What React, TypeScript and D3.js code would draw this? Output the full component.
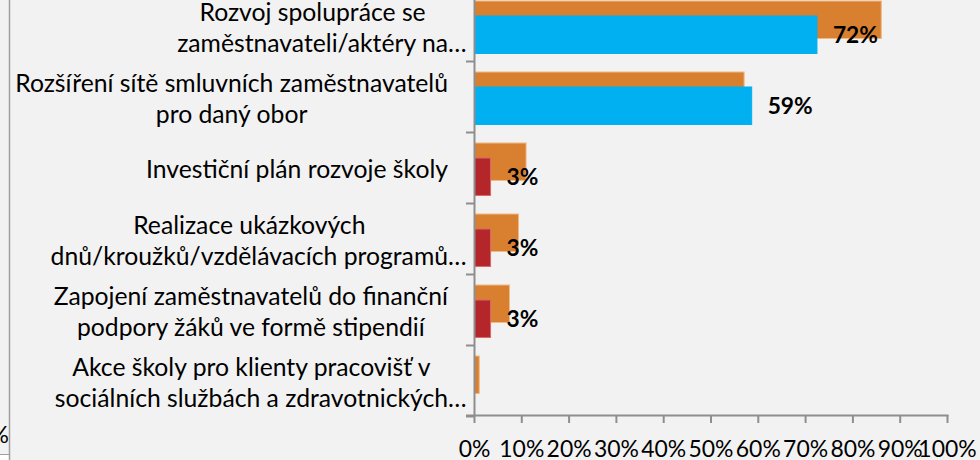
import React, { useEffect, useRef } from "react";
import * as d3 from "d3";

const W = 980;
const H = 460;
const FONT = "Lato, 'Open Sans', sans-serif";

// Category labels (lines as shown; "…" marks Excel's truncation)
const categories: string[][] = [
  ["Rozvoj spolupráce se", "zaměstnavateli/aktéry na…"],
  ["Rozšíření sítě smluvních zaměstnavatelů", "pro daný obor"],
  ["Investiční plán rozvoje školy"],
  ["Realizace ukázkových", "dnů/kroužků/vzdělávacích programů…"],
  ["Zapojení zaměstnavatelů do finanční", "podpory žáků ve formě stipendií"],
  ["Akce školy pro klienty pracovišť v", "sociálních službách a zdravotnických…"],
];
const categoryKeys = categories.map((c) => c.join(" "));

// Series values (percent)
const seriesOrange: number[] = [86, 57, 10.9, 9.3, 7.4, 1.0];
const seriesMain: (number | null)[] = [72.4, 58.6, 3.4, 3.4, 3.4, null];
const mainColors = ["#00B0F0", "#00B0F0", "#B5262A", "#B5262A", "#B5262A", "#B5262A"];
const mainStroke = ["#00B0F0", "#00B0F0", "#D86A6A", "#D86A6A", "#D86A6A", "#D86A6A"];

const xTicks = [0, 10, 20, 30, 40, 50, 60, 70, 80, 90, 100];

export default function App() {
  const ref = useRef<SVGSVGElement | null>(null);

  useEffect(() => {
    const svg = d3.select(ref.current!);
    svg.selectAll("*").remove();

    const fit = (text: string, weight: string, target: number) => {
      const t = svg
        .append("text")
        .attr("font-family", FONT)
        .attr("font-size", 26)
        .attr("font-weight", weight)
        .text(text);
      const w = (t.node() as SVGTextElement).getComputedTextLength();
      t.remove();
      return (26 * target) / w;
    };
    const catSize = fit("Rozšíření sítě smluvních zaměstnavatelů", "normal", 433);
    const tickSize = fit("10%", "normal", 45);
    const valSize = fit("72%", "bold", 45);

    svg.append("rect").attr("width", W).attr("height", H).attr("fill", "#F2F2F2");

    const x = d3.scaleLinear().domain([0, 100]).range([474.5, 947.5]);
    const y = d3.scaleBand<string>().domain(categoryKeys).range([-9, 417]);
    const bw = y.bandwidth();
    const barH = bw * 0.528;
    const offA = bw * 0.141;
    const offB = bw * 0.352;

    const axisColor = "#8E8E8E";

    // Orange series
    svg
      .append("g")
      .selectAll("rect")
      .data(seriesOrange)
      .join("rect")
      .attr("x", x(0))
      .attr("y", (_, i) => y(categoryKeys[i])! + offA)
      .attr("width", (d) => x(d) - x(0))
      .attr("height", barH)
      .attr("fill", "#D98030")
      .attr("stroke", "#F0B985")
      .attr("stroke-width", 1);

    // Main series
    const mainData = seriesMain
      .map((v, i) => ({ v, i }))
      .filter((d) => d.v !== null) as { v: number; i: number }[];
    svg
      .append("g")
      .selectAll("rect")
      .data(mainData)
      .join("rect")
      .attr("x", x(0))
      .attr("y", (d) => y(categoryKeys[d.i])! + offB)
      .attr("width", (d) => x(d.v) - x(0))
      .attr("height", barH)
      .attr("fill", (d) => mainColors[d.i])
      .attr("stroke", (d) => mainStroke[d.i])
      .attr("stroke-width", 1);

    // Data labels
    const fmt = d3.format(".0f");
    svg
      .append("g")
      .selectAll("text")
      .data(mainData)
      .join("text")
      .attr("x", (d) => x(d.v) + 16)
      .attr("y", (d) => y(categoryKeys[d.i])! + offB + barH / 2)
      .attr("dominant-baseline", "central")
      .attr("font-family", FONT)
      .attr("font-weight", "bold")
      .attr("font-size", valSize)
      .attr("fill", "#000")
      .text((d) => fmt(d.v) + "%");

    // Y axis
    const gy = svg.append("g");
    gy.append("line")
      .attr("x1", 474.5)
      .attr("x2", 474.5)
      .attr("y1", -9)
      .attr("y2", 416)
      .attr("stroke", axisColor)
      .attr("stroke-width", 2);
    const boundaries = categoryKeys.map((k) => y(k)!).concat([417]);
    gy.selectAll("line.t")
      .data(boundaries)
      .join("line")
      .attr("class", "t")
      .attr("x1", 466)
      .attr("x2", 474.5)
      .attr("y1", (d) => Math.round(d) - 0.5)
      .attr("y2", (d) => Math.round(d) - 0.5)
      .attr("stroke", axisColor)
      .attr("stroke-width", 2);

    // X axis
    const gx = svg.append("g");
    gx.append("line")
      .attr("x1", 466)
      .attr("x2", x(100) + 1)
      .attr("y1", 415.5)
      .attr("y2", 415.5)
      .attr("stroke", axisColor)
      .attr("stroke-width", 2);
    gx.selectAll("line.t")
      .data(xTicks)
      .join("line")
      .attr("class", "t")
      .attr("x1", (d) => x(d))
      .attr("x2", (d) => x(d))
      .attr("y1", 415)
      .attr("y2", 423)
      .attr("stroke", axisColor)
      .attr("stroke-width", 2);
    gx.selectAll("text")
      .data(xTicks)
      .join("text")
      .attr("x", (d) => x(d))
      .attr("y", 456.5)
      .attr("text-anchor", "middle")
      .attr("font-family", FONT)
      .attr("font-size", tickSize)
      .attr("fill", "#000")
      .text((d) => d + "%");

    // Category labels
    const gl = svg.append("g");
    const lineH = 31;
    const rightEdge = 448;
    categories.forEach((lines, i) => {
      const cy = y(categoryKeys[i])! + bw / 2;
      const widths = lines.map((l) => {
        const main = l.replace(/…$/, "");
        const t = gl
          .append("text")
          .attr("font-family", FONT)
          .attr("font-size", catSize)
          .text(main);
        const w = (t.node() as SVGTextElement).getComputedTextLength();
        t.remove();
        return w;
      });
      const maxW = Math.max(...widths);
      const cx = rightEdge - maxW / 2;
      lines.forEach((l, j) => {
        const ly = cy + (j - (lines.length - 1) / 2) * lineH;
        gl.append("text")
          .attr("x", cx - widths[j] / 2)
          .attr("y", ly)
          .attr("dominant-baseline", "central")
          .attr("font-family", FONT)
          .attr("font-size", catSize)
          .attr("fill", "#000")
          .text(l);
      });
    });

    // Left frame remnants
    const clipId = "leftclip";
    svg
      .append("clipPath")
      .attr("id", clipId)
      .append("rect")
      .attr("x", 0)
      .attr("y", 0)
      .attr("width", 9)
      .attr("height", H);
    svg
      .append("text")
      .attr("clip-path", `url(#${clipId})`)
      .attr("x", 9)
      .attr("y", 443)
      .attr("text-anchor", "end")
      .attr("font-family", FONT)
      .attr("font-size", tickSize)
      .attr("fill", "#000")
      .text("0%");
    svg
      .append("rect")
      .attr("x", 0)
      .attr("y", 455)
      .attr("width", 9)
      .attr("height", 5)
      .attr("fill", "#FFFFFF");
    svg
      .append("line")
      .attr("x1", 0)
      .attr("x2", 9)
      .attr("y1", 454.5)
      .attr("y2", 454.5)
      .attr("stroke", "#A0A0A0")
      .attr("stroke-width", 1);
    svg
      .append("line")
      .attr("x1", 9.5)
      .attr("x2", 9.5)
      .attr("y1", 0)
      .attr("y2", H)
      .attr("stroke", "#A0A0A0")
      .attr("stroke-width", 1.5);
  }, []);

  return (
    <svg
      ref={ref}
      width={W}
      height={H}
      style={{ position: "absolute", left: 0, top: 0, display: "block" }}
    />
  );
}
